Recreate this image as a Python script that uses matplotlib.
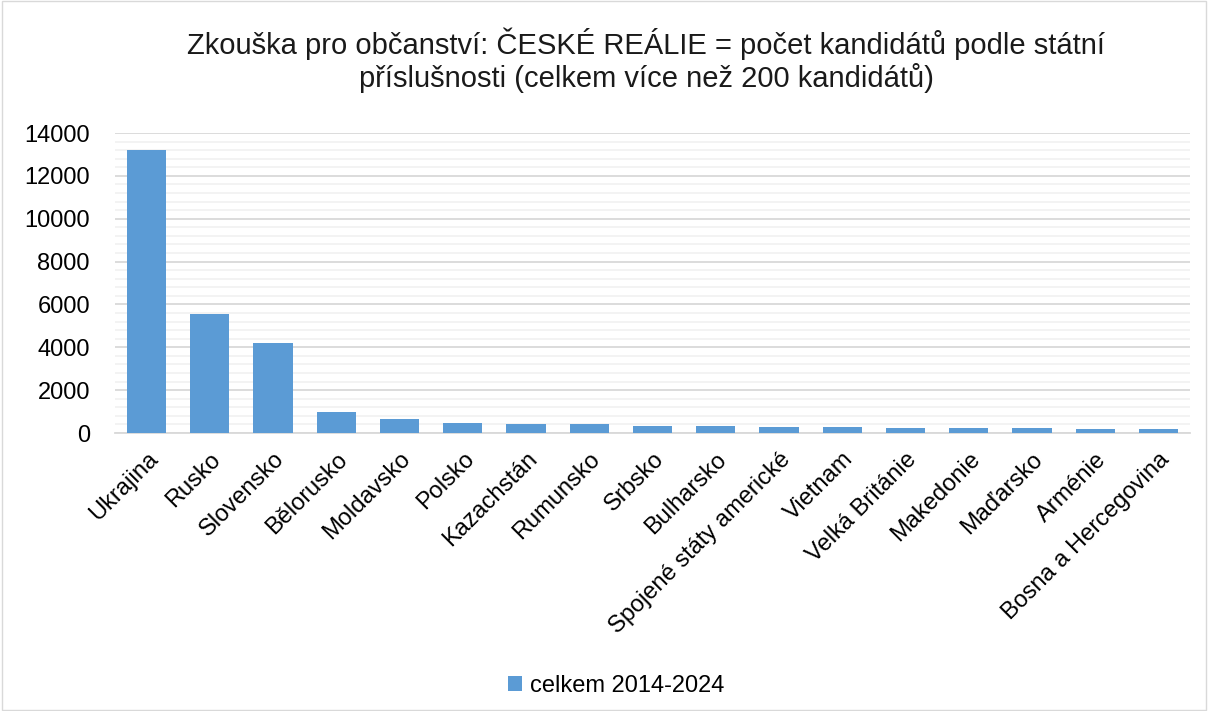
import matplotlib
matplotlib.use("Agg")
import matplotlib.pyplot as plt
from matplotlib.ticker import MultipleLocator

plt.rcParams['font.family'] = ['Liberation Sans', 'DejaVu Sans']

countries = ["Ukrajina", "Rusko", "Slovensko", "Bělorusko", "Moldavsko", "Polsko",
             "Kazachstán", "Rumunsko", "Srbsko", "Bulharsko", "Spojené státy americké",
             "Vietnam", "Velká Británie", "Makedonie", "Maďarsko", "Arménie",
             "Bosna a Hercegovina"]
values = [13200, 5550, 4200, 960, 650, 460, 440, 400, 320, 320, 300,
          290, 255, 245, 235, 205, 195]
series_name = "celkem 2014-2024"
title = "Zkouška pro občanství: ČESKÉ REÁLIE = počet kandidátů podle státní\npříslušnosti (celkem více než 200 kandidátů)"

fig = plt.figure(figsize=(12.08, 7.11), dpi=100)
ax = fig.add_axes([115/1208, 1 - 433/711, (1190 - 115)/1208, 300/711])

x = range(len(countries))
ax.bar(x, values, width=0.62, color="#5B9BD5", label=series_name, zorder=3)

ax.set_ylim(0, 14000)
ax.set_xlim(-0.5, len(countries) - 0.5)
ax.yaxis.set_major_locator(MultipleLocator(2000))
ax.yaxis.set_minor_locator(MultipleLocator(400))
ax.grid(axis='y', which='major', color='#D9D9D9', linewidth=1.3, zorder=0)
ax.grid(axis='y', which='minor', color='#F2F2F2', linewidth=1.3, zorder=0)
for s in ['top', 'right', 'left']:
    ax.spines[s].set_visible(False)
ax.spines['bottom'].set_color('#D9D9D9')
ax.spines['bottom'].set_linewidth(1.3)
ax.tick_params(axis='both', which='both', length=0, labelsize=17, colors='#000000')
ax.tick_params(axis='y', pad=18)
ax.set_xticks(list(x))
ax.set_xticklabels(countries, rotation=45, ha='right', rotation_mode='anchor')
ax.tick_params(axis='x', pad=11)

fig.text(0.535, 0.962, title, ha='center', va='top', fontsize=21, color='#1a1a1a',
         linespacing=1.15)

leg = fig.legend(loc='lower center', bbox_to_anchor=(0.51, -0.01), frameon=False,
                 fontsize=17, handlelength=0.6, handleheight=0.6, handletextpad=0.3)

border = plt.Rectangle((0.002, 0.002), 0.996, 0.996, transform=fig.transFigure,
                       fill=False, edgecolor='#D9D9D9', linewidth=1)
fig.patches.append(border)

fig.savefig("out.png", dpi=100)
